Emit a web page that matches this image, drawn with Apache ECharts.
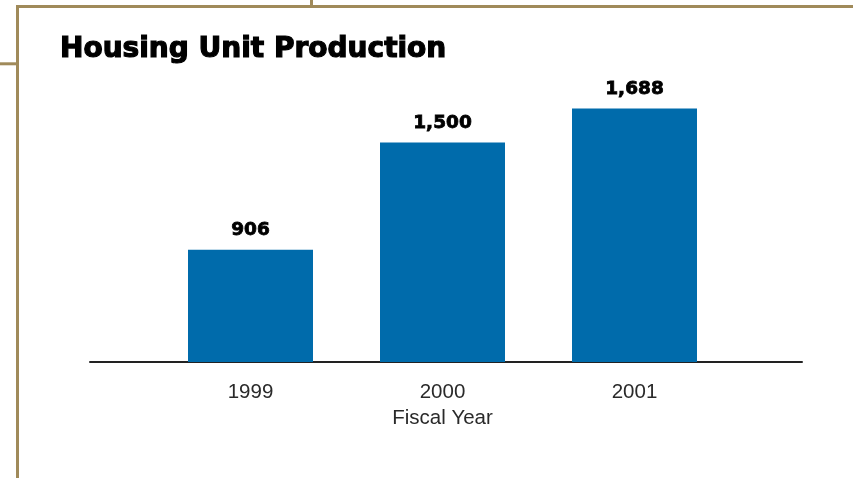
<!DOCTYPE html>
<html>
<head>
<meta charset="utf-8">
<script src="https://cdn.jsdelivr.net/npm/echarts@6/dist/echarts.min.js"></script>
<style>html,body{margin:0;padding:0;background:#fff}#c{width:853px;height:478px}</style>
</head>
<body>
<div id="c"></div>
<script>
var categories = ['1999', '2000', '2001'];
var units = [906, 1500, 1688];
var titleText = 'Housing Unit Production';
var axisName = 'Fiscal Year';

var chart = echarts.init(document.getElementById('c'), null, {renderer: 'canvas'});
var frame = '#a08a5a';
chart.setOption({
  animation: false,
  backgroundColor: '#fff',
  title: {
    text: titleText, left: 55, top: 31,
    textStyle: {fontFamily: 'DejaVu Sans', fontWeight: 'bold', fontSize: 28, color: '#000',
      textBorderColor: '#000', textBorderWidth: 1.2}
  },
  grid: [
    {left: 154.5, right: 122.5, top: 52, bottom: 116},
    {left: 90, right: 51, top: 52, bottom: 116}
  ],
  xAxis: [
    {
      type: 'category', data: categories, gridIndex: 0,
      axisLine: {show: false}, axisTick: {show: false},
      axisLabel: {margin: 20, fontFamily: 'Liberation Sans', fontSize: 20.5, color: '#2a2a2a'},
      name: axisName, nameLocation: 'middle', nameGap: 46,
      nameTextStyle: {fontFamily: 'Liberation Sans', fontSize: 20.5, color: '#2a2a2a'}
    },
    {
      type: 'value', gridIndex: 1, min: 0, max: 1,
      axisLine: {show: true, onZero: false, lineStyle: {color: '#222', width: 2}},
      axisTick: {show: false}, axisLabel: {show: false}, splitLine: {show: false}
    }
  ],
  yAxis: [
    {type: 'value', gridIndex: 0, min: 285, max: 2000, show: false, splitLine: {show: false}},
    {type: 'value', gridIndex: 1, min: 0, max: 1, show: false}
  ],
  series: [{
    type: 'bar', data: units, xAxisIndex: 0, yAxisIndex: 0,
    barWidth: 125,
    itemStyle: {color: '#006bab'},
    label: {
      show: true, position: 'top', distance: 10,
      fontFamily: 'DejaVu Sans', fontWeight: 'bold', fontSize: 18.5, color: '#000',
      textBorderColor: '#000', textBorderWidth: 0.8,
      formatter: function (p) { return p.value.toLocaleString('en-US'); }
    }
  }],
  graphic: [
    {type: 'line', shape: {x1: 16, y1: 6.5, x2: 853, y2: 6.5}, style: {stroke: frame, lineWidth: 3}},
    {type: 'line', shape: {x1: 17.5, y1: 5, x2: 17.5, y2: 478}, style: {stroke: frame, lineWidth: 3}},
    {type: 'line', shape: {x1: 311.5, y1: 0, x2: 311.5, y2: 6}, style: {stroke: frame, lineWidth: 3}},
    {type: 'line', shape: {x1: 0, y1: 63.8, x2: 17, y2: 63.8}, style: {stroke: frame, lineWidth: 3}}
  ]
});
</script>
</body>
</html>
